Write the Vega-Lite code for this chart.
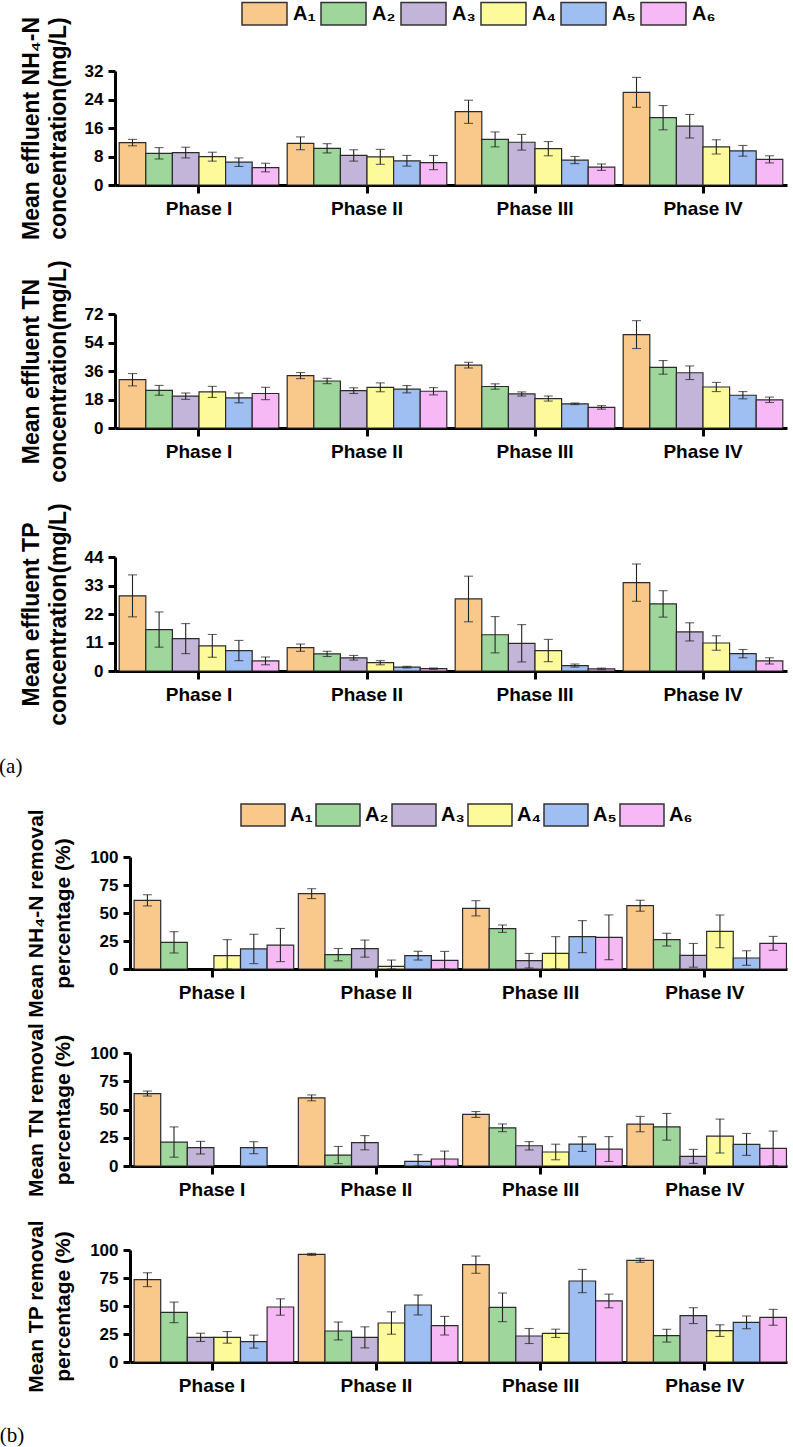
{
  "$schema": "https://vega.github.io/schema/vega-lite/v6.json",
  "padding": {"left": -1, "top": -10, "right": 3, "bottom": 0},
  "background": "white",
  "datasets": {
    "d": [
      {"p":"nh4","ph":"Phase I","g":"A₁","v":11.9,"lo":11.0,"hi":12.8},
      {"p":"nh4","ph":"Phase I","g":"A₂","v":8.9,"lo":7.3,"hi":10.5},
      {"p":"nh4","ph":"Phase I","g":"A₃","v":9.1,"lo":7.6,"hi":10.6},
      {"p":"nh4","ph":"Phase I","g":"A₄","v":7.95,"lo":6.7,"hi":9.2},
      {"p":"nh4","ph":"Phase I","g":"A₅","v":6.4,"lo":5.2,"hi":7.6},
      {"p":"nh4","ph":"Phase I","g":"A₆","v":4.9,"lo":3.7,"hi":6.1},
      {"p":"nh4","ph":"Phase II","g":"A₁","v":11.7,"lo":9.9,"hi":13.5},
      {"p":"nh4","ph":"Phase II","g":"A₂","v":10.3,"lo":9.0,"hi":11.6},
      {"p":"nh4","ph":"Phase II","g":"A₃","v":8.3,"lo":6.7,"hi":9.9},
      {"p":"nh4","ph":"Phase II","g":"A₄","v":7.9,"lo":5.8,"hi":10.0},
      {"p":"nh4","ph":"Phase II","g":"A₅","v":6.8,"lo":5.3,"hi":8.3},
      {"p":"nh4","ph":"Phase II","g":"A₆","v":6.3,"lo":4.3,"hi":8.3},
      {"p":"nh4","ph":"Phase III","g":"A₁","v":20.6,"lo":17.3,"hi":23.8},
      {"p":"nh4","ph":"Phase III","g":"A₂","v":12.8,"lo":10.7,"hi":14.9},
      {"p":"nh4","ph":"Phase III","g":"A₃","v":12.0,"lo":9.8,"hi":14.2},
      {"p":"nh4","ph":"Phase III","g":"A₄","v":10.2,"lo":8.2,"hi":12.2},
      {"p":"nh4","ph":"Phase III","g":"A₅","v":7.0,"lo":6.0,"hi":8.0},
      {"p":"nh4","ph":"Phase III","g":"A₆","v":5.0,"lo":4.1,"hi":5.9},
      {"p":"nh4","ph":"Phase IV","g":"A₁","v":26.0,"lo":21.8,"hi":30.2},
      {"p":"nh4","ph":"Phase IV","g":"A₂","v":18.9,"lo":15.5,"hi":22.3},
      {"p":"nh4","ph":"Phase IV","g":"A₃","v":16.5,"lo":13.2,"hi":19.8},
      {"p":"nh4","ph":"Phase IV","g":"A₄","v":10.7,"lo":8.7,"hi":12.7},
      {"p":"nh4","ph":"Phase IV","g":"A₅","v":9.6,"lo":8.1,"hi":11.1},
      {"p":"nh4","ph":"Phase IV","g":"A₆","v":7.2,"lo":6.2,"hi":8.2},

      {"p":"tn","ph":"Phase I","g":"A₁","v":30.5,"lo":26.6,"hi":34.4},
      {"p":"tn","ph":"Phase I","g":"A₂","v":23.8,"lo":20.7,"hi":26.9},
      {"p":"tn","ph":"Phase I","g":"A₃","v":20.1,"lo":18.1,"hi":22.1},
      {"p":"tn","ph":"Phase I","g":"A₄","v":22.8,"lo":19.3,"hi":26.3},
      {"p":"tn","ph":"Phase I","g":"A₅","v":19.0,"lo":15.9,"hi":22.1},
      {"p":"tn","ph":"Phase I","g":"A₆","v":21.8,"lo":17.9,"hi":25.7},
      {"p":"tn","ph":"Phase II","g":"A₁","v":33.1,"lo":31.2,"hi":35.0},
      {"p":"tn","ph":"Phase II","g":"A₂","v":29.7,"lo":28.0,"hi":31.4},
      {"p":"tn","ph":"Phase II","g":"A₃","v":23.6,"lo":21.8,"hi":25.4},
      {"p":"tn","ph":"Phase II","g":"A₄","v":25.7,"lo":22.9,"hi":28.5},
      {"p":"tn","ph":"Phase II","g":"A₅","v":24.5,"lo":22.2,"hi":26.8},
      {"p":"tn","ph":"Phase II","g":"A₆","v":23.2,"lo":20.9,"hi":25.5},
      {"p":"tn","ph":"Phase III","g":"A₁","v":39.7,"lo":37.9,"hi":41.5},
      {"p":"tn","ph":"Phase III","g":"A₂","v":26.2,"lo":24.5,"hi":27.9},
      {"p":"tn","ph":"Phase III","g":"A₃","v":21.5,"lo":20.2,"hi":22.8},
      {"p":"tn","ph":"Phase III","g":"A₄","v":18.6,"lo":17.0,"hi":20.2},
      {"p":"tn","ph":"Phase III","g":"A₅","v":15.3,"lo":14.8,"hi":15.8},
      {"p":"tn","ph":"Phase III","g":"A₆","v":13.0,"lo":11.9,"hi":14.1},
      {"p":"tn","ph":"Phase IV","g":"A₁","v":59.0,"lo":50.2,"hi":67.8},
      {"p":"tn","ph":"Phase IV","g":"A₂","v":38.3,"lo":34.0,"hi":42.6},
      {"p":"tn","ph":"Phase IV","g":"A₃","v":34.9,"lo":30.6,"hi":39.2},
      {"p":"tn","ph":"Phase IV","g":"A₄","v":25.9,"lo":23.0,"hi":28.8},
      {"p":"tn","ph":"Phase IV","g":"A₅","v":20.7,"lo":18.4,"hi":23.0},
      {"p":"tn","ph":"Phase IV","g":"A₆","v":17.8,"lo":16.1,"hi":19.5},

      {"p":"tp","ph":"Phase I","g":"A₁","v":29.0,"lo":20.9,"hi":37.1},
      {"p":"tp","ph":"Phase I","g":"A₂","v":16.0,"lo":9.2,"hi":22.8},
      {"p":"tp","ph":"Phase I","g":"A₃","v":12.5,"lo":6.7,"hi":18.3},
      {"p":"tp","ph":"Phase I","g":"A₄","v":9.7,"lo":5.3,"hi":14.1},
      {"p":"tp","ph":"Phase I","g":"A₅","v":7.9,"lo":4.0,"hi":11.8},
      {"p":"tp","ph":"Phase I","g":"A₆","v":3.9,"lo":2.4,"hi":5.4},
      {"p":"tp","ph":"Phase II","g":"A₁","v":9.0,"lo":7.6,"hi":10.4},
      {"p":"tp","ph":"Phase II","g":"A₂","v":6.6,"lo":5.6,"hi":7.6},
      {"p":"tp","ph":"Phase II","g":"A₃","v":5.1,"lo":4.2,"hi":6.0},
      {"p":"tp","ph":"Phase II","g":"A₄","v":3.2,"lo":2.4,"hi":4.0},
      {"p":"tp","ph":"Phase II","g":"A₅","v":1.5,"lo":1.2,"hi":1.8},
      {"p":"tp","ph":"Phase II","g":"A₆","v":0.9,"lo":0.65,"hi":1.15},
      {"p":"tp","ph":"Phase III","g":"A₁","v":27.8,"lo":19.0,"hi":36.6},
      {"p":"tp","ph":"Phase III","g":"A₂","v":14.0,"lo":7.0,"hi":21.0},
      {"p":"tp","ph":"Phase III","g":"A₃","v":10.7,"lo":3.5,"hi":17.9},
      {"p":"tp","ph":"Phase III","g":"A₄","v":7.9,"lo":3.6,"hi":12.2},
      {"p":"tp","ph":"Phase III","g":"A₅","v":2.1,"lo":1.5,"hi":2.7},
      {"p":"tp","ph":"Phase III","g":"A₆","v":0.8,"lo":0.5,"hi":1.1},
      {"p":"tp","ph":"Phase IV","g":"A₁","v":34.1,"lo":26.9,"hi":41.3},
      {"p":"tp","ph":"Phase IV","g":"A₂","v":25.9,"lo":20.8,"hi":31.0},
      {"p":"tp","ph":"Phase IV","g":"A₃","v":15.1,"lo":11.6,"hi":18.6},
      {"p":"tp","ph":"Phase IV","g":"A₄","v":10.8,"lo":8.0,"hi":13.6},
      {"p":"tp","ph":"Phase IV","g":"A₅","v":6.7,"lo":5.1,"hi":8.3},
      {"p":"tp","ph":"Phase IV","g":"A₆","v":3.9,"lo":2.7,"hi":5.1},

      {"p":"rnh4","ph":"Phase I","g":"A₁","v":61.3,"lo":56.3,"hi":66.3},
      {"p":"rnh4","ph":"Phase I","g":"A₂","v":23.8,"lo":14.3,"hi":33.3},
      {"p":"rnh4","ph":"Phase I","g":"A₄","v":11.9,"lo":0,"hi":26.2},
      {"p":"rnh4","ph":"Phase I","g":"A₅","v":17.9,"lo":4.8,"hi":31.0},
      {"p":"rnh4","ph":"Phase I","g":"A₆","v":21.4,"lo":6.6,"hi":36.2},
      {"p":"rnh4","ph":"Phase II","g":"A₁","v":67.3,"lo":62.9,"hi":71.7},
      {"p":"rnh4","ph":"Phase II","g":"A₂","v":12.8,"lo":7.3,"hi":18.3},
      {"p":"rnh4","ph":"Phase II","g":"A₃","v":18.2,"lo":10.6,"hi":25.8},
      {"p":"rnh4","ph":"Phase II","g":"A₄","v":2.4,"lo":0,"hi":8.0},
      {"p":"rnh4","ph":"Phase II","g":"A₅","v":11.9,"lo":8.0,"hi":15.8},
      {"p":"rnh4","ph":"Phase II","g":"A₆","v":7.7,"lo":0,"hi":15.7},
      {"p":"rnh4","ph":"Phase III","g":"A₁","v":54.2,"lo":47.4,"hi":61.0},
      {"p":"rnh4","ph":"Phase III","g":"A₂","v":36.0,"lo":32.7,"hi":39.3},
      {"p":"rnh4","ph":"Phase III","g":"A₃","v":7.4,"lo":0.9,"hi":13.9},
      {"p":"rnh4","ph":"Phase III","g":"A₄","v":14.0,"lo":0,"hi":28.9},
      {"p":"rnh4","ph":"Phase III","g":"A₅","v":28.9,"lo":14.6,"hi":43.2},
      {"p":"rnh4","ph":"Phase III","g":"A₆","v":28.3,"lo":8.3,"hi":48.3},
      {"p":"rnh4","ph":"Phase IV","g":"A₁","v":56.5,"lo":51.6,"hi":61.4},
      {"p":"rnh4","ph":"Phase IV","g":"A₂","v":26.2,"lo":20.5,"hi":31.9},
      {"p":"rnh4","ph":"Phase IV","g":"A₃","v":12.2,"lo":1.6,"hi":22.8},
      {"p":"rnh4","ph":"Phase IV","g":"A₄","v":33.6,"lo":19.0,"hi":48.2},
      {"p":"rnh4","ph":"Phase IV","g":"A₅","v":9.8,"lo":3.3,"hi":16.3},
      {"p":"rnh4","ph":"Phase IV","g":"A₆","v":22.9,"lo":16.7,"hi":29.1},

      {"p":"rtn","ph":"Phase I","g":"A₁","v":64.1,"lo":61.9,"hi":66.3},
      {"p":"rtn","ph":"Phase I","g":"A₂","v":21.2,"lo":7.8,"hi":34.6},
      {"p":"rtn","ph":"Phase I","g":"A₃","v":16.2,"lo":10.6,"hi":21.8},
      {"p":"rtn","ph":"Phase I","g":"A₅","v":16.2,"lo":10.9,"hi":21.5},
      {"p":"rtn","ph":"Phase II","g":"A₁","v":60.3,"lo":57.7,"hi":62.9},
      {"p":"rtn","ph":"Phase II","g":"A₂","v":9.7,"lo":2.1,"hi":17.3},
      {"p":"rtn","ph":"Phase II","g":"A₃","v":20.6,"lo":14.3,"hi":26.9},
      {"p":"rtn","ph":"Phase II","g":"A₅","v":4.1,"lo":0,"hi":10.0},
      {"p":"rtn","ph":"Phase II","g":"A₆","v":6.2,"lo":0,"hi":13.2},
      {"p":"rtn","ph":"Phase III","g":"A₁","v":45.6,"lo":43.0,"hi":48.2},
      {"p":"rtn","ph":"Phase III","g":"A₂","v":33.8,"lo":30.4,"hi":37.2},
      {"p":"rtn","ph":"Phase III","g":"A₃","v":17.9,"lo":14.2,"hi":21.6},
      {"p":"rtn","ph":"Phase III","g":"A₄","v":12.4,"lo":5.5,"hi":19.3},
      {"p":"rtn","ph":"Phase III","g":"A₅","v":19.4,"lo":12.9,"hi":25.9},
      {"p":"rtn","ph":"Phase III","g":"A₆","v":15.0,"lo":4.0,"hi":26.0},
      {"p":"rtn","ph":"Phase IV","g":"A₁","v":37.1,"lo":30.3,"hi":43.9},
      {"p":"rtn","ph":"Phase IV","g":"A₂","v":34.7,"lo":22.9,"hi":46.5},
      {"p":"rtn","ph":"Phase IV","g":"A₃","v":8.5,"lo":2.3,"hi":14.7},
      {"p":"rtn","ph":"Phase IV","g":"A₄","v":26.5,"lo":11.5,"hi":41.5},
      {"p":"rtn","ph":"Phase IV","g":"A₅","v":19.1,"lo":9.4,"hi":28.8},
      {"p":"rtn","ph":"Phase IV","g":"A₆","v":15.6,"lo":0.3,"hi":30.9},

      {"p":"rtp","ph":"Phase I","g":"A₁","v":73.5,"lo":67.3,"hi":79.7},
      {"p":"rtp","ph":"Phase I","g":"A₂","v":44.3,"lo":35.1,"hi":53.5},
      {"p":"rtp","ph":"Phase I","g":"A₃","v":22.0,"lo":18.3,"hi":25.7},
      {"p":"rtp","ph":"Phase I","g":"A₄","v":22.0,"lo":16.8,"hi":27.2},
      {"p":"rtp","ph":"Phase I","g":"A₅","v":18.2,"lo":12.4,"hi":24.0},
      {"p":"rtp","ph":"Phase I","g":"A₆","v":49.1,"lo":41.8,"hi":56.4},
      {"p":"rtp","ph":"Phase II","g":"A₁","v":96.1,"lo":95.2,"hi":97.0},
      {"p":"rtp","ph":"Phase II","g":"A₂","v":27.7,"lo":19.7,"hi":35.7},
      {"p":"rtp","ph":"Phase II","g":"A₃","v":22.0,"lo":12.6,"hi":31.4},
      {"p":"rtp","ph":"Phase II","g":"A₄","v":34.8,"lo":24.8,"hi":44.8},
      {"p":"rtp","ph":"Phase II","g":"A₅","v":50.9,"lo":42.0,"hi":59.8},
      {"p":"rtp","ph":"Phase II","g":"A₆","v":32.4,"lo":24.1,"hi":40.7},
      {"p":"rtp","ph":"Phase III","g":"A₁","v":86.9,"lo":79.2,"hi":94.6},
      {"p":"rtp","ph":"Phase III","g":"A₂","v":48.8,"lo":36.0,"hi":61.6},
      {"p":"rtp","ph":"Phase III","g":"A₃","v":23.2,"lo":16.5,"hi":29.9},
      {"p":"rtp","ph":"Phase III","g":"A₄","v":25.6,"lo":21.9,"hi":29.3},
      {"p":"rtp","ph":"Phase III","g":"A₅","v":72.3,"lo":61.9,"hi":82.7},
      {"p":"rtp","ph":"Phase III","g":"A₆","v":54.5,"lo":48.4,"hi":60.6},
      {"p":"rtp","ph":"Phase IV","g":"A₁","v":90.8,"lo":89.0,"hi":92.6},
      {"p":"rtp","ph":"Phase IV","g":"A₂","v":23.5,"lo":17.8,"hi":29.2},
      {"p":"rtp","ph":"Phase IV","g":"A₃","v":41.4,"lo":34.3,"hi":48.5},
      {"p":"rtp","ph":"Phase IV","g":"A₄","v":28.0,"lo":22.8,"hi":33.2},
      {"p":"rtp","ph":"Phase IV","g":"A₅","v":35.4,"lo":29.7,"hi":41.1},
      {"p":"rtp","ph":"Phase IV","g":"A₆","v":39.9,"lo":32.8,"hi":47.0}
    ]
  },
  "data": {"name": "d"},
  "resolve": {"scale": {"color": "independent"}, "legend": {"color": "independent"}},
  "spacing": 14,
  "vconcat": [
    {
      "bounds": "flush",
      "spacing": 129,
      "resolve": {"scale": {"color": "independent"}, "legend": {"color": "independent"}},
      "vconcat": [
        {
          "width": 672, "height": 114,
          "transform": [{"filter": "datum.p === 'nh4'"}],
          "encoding": {
            "x": {"field": "ph", "type": "nominal", "sort": ["Phase I","Phase II","Phase III","Phase IV"], "scale": {"paddingInner": 0.05, "paddingOuter": 0.025}, "title": null},
            "xOffset": {"field": "g", "type": "nominal", "scale": {"domain": ["A₁","A₂","A₃","A₄","A₅","A₆"], "paddingInner": 0, "paddingOuter": 0}}
          },
          "layer": [
            {"mark": {"type": "bar", "stroke": "#2b2b2b", "strokeWidth": 1.2},
             "encoding": {
               "y": {"field": "v", "type": "quantitative", "scale": {"domain": [0, 32], "nice": false}, "axis": {"values": [0, 8, 16, 24, 32], "titleFontSize": 23, "titlePadding": 14, "title": ["Mean effluent NH₄-N", "concentration(mg/L)"]}},
               "color": {"field": "g", "type": "nominal", "scale": {"domain": ["A₁","A₂","A₃","A₄","A₅","A₆"], "range": ["#F9C98C","#9ED69C","#C3B5D9","#FCFA9B","#9FBEF1","#F7B8F6"]},
                 "legend": {"orient": "none", "legendX": 126, "legendY": -81, "direction": "horizontal", "title": null, "symbolType": "M-1,-0.5H1V0.5H-1Z", "symbolSize": 2025, "symbolStrokeColor": "#333333", "symbolStrokeWidth": 1.5, "symbolOpacity": 1, "labelFont": "Liberation Sans", "labelFontSize": 20, "labelFontWeight": "bold", "labelColor": "black", "labelOffset": 5, "columnPadding": 2}}
             }},
            {"mark": {"type": "rule", "color": "#222222", "strokeWidth": 1.1},
             "encoding": {"y": {"field": "lo", "type": "quantitative", "scale": {"domain": [0, 32], "nice": false}, "axis": {"values": [0, 8, 16, 24, 32], "titleFontSize": 23, "titlePadding": 14, "title": ["Mean effluent NH₄-N", "concentration(mg/L)"]}}, "y2": {"field": "hi"}}},
            {"mark": {"type": "tick", "color": "#222222", "thickness": 1.1, "size": 9},
             "encoding": {"y": {"field": "lo", "type": "quantitative", "scale": {"domain": [0, 32], "nice": false}, "axis": {"values": [0, 8, 16, 24, 32], "titleFontSize": 23, "titlePadding": 14, "title": ["Mean effluent NH₄-N", "concentration(mg/L)"]}}}},
            {"mark": {"type": "tick", "color": "#222222", "thickness": 1.1, "size": 9},
             "encoding": {"y": {"field": "hi", "type": "quantitative", "scale": {"domain": [0, 32], "nice": false}, "axis": {"values": [0, 8, 16, 24, 32], "titleFontSize": 23, "titlePadding": 14, "title": ["Mean effluent NH₄-N", "concentration(mg/L)"]}}}}
          ]
        },
        {
          "width": 672, "height": 114,
          "transform": [{"filter": "datum.p === 'tn'"}],
          "encoding": {
            "x": {"field": "ph", "type": "nominal", "sort": ["Phase I","Phase II","Phase III","Phase IV"], "scale": {"paddingInner": 0.05, "paddingOuter": 0.025}, "title": null},
            "xOffset": {"field": "g", "type": "nominal", "scale": {"domain": ["A₁","A₂","A₃","A₄","A₅","A₆"], "paddingInner": 0, "paddingOuter": 0}}
          },
          "layer": [
            {"mark": {"type": "bar", "stroke": "#2b2b2b", "strokeWidth": 1.2},
             "encoding": {
               "y": {"field": "v", "type": "quantitative", "scale": {"domain": [0, 72], "nice": false}, "axis": {"values": [0, 18, 36, 54, 72], "titleFontSize": 23, "titlePadding": 14, "title": ["Mean effluent TN", "concentration(mg/L)"]}},
               "color": {"field": "g", "type": "nominal", "scale": {"domain": ["A₁","A₂","A₃","A₄","A₅","A₆"], "range": ["#F9C98C","#9ED69C","#C3B5D9","#FCFA9B","#9FBEF1","#F7B8F6"]}, "legend": null}
             }},
            {"mark": {"type": "rule", "color": "#222222", "strokeWidth": 1.1},
             "encoding": {"y": {"field": "lo", "type": "quantitative", "scale": {"domain": [0, 72], "nice": false}, "axis": {"values": [0, 18, 36, 54, 72], "titleFontSize": 23, "titlePadding": 14, "title": ["Mean effluent TN", "concentration(mg/L)"]}}, "y2": {"field": "hi"}}},
            {"mark": {"type": "tick", "color": "#222222", "thickness": 1.1, "size": 9},
             "encoding": {"y": {"field": "lo", "type": "quantitative", "scale": {"domain": [0, 72], "nice": false}, "axis": {"values": [0, 18, 36, 54, 72], "titleFontSize": 23, "titlePadding": 14, "title": ["Mean effluent TN", "concentration(mg/L)"]}}}},
            {"mark": {"type": "tick", "color": "#222222", "thickness": 1.1, "size": 9},
             "encoding": {"y": {"field": "hi", "type": "quantitative", "scale": {"domain": [0, 72], "nice": false}, "axis": {"values": [0, 18, 36, 54, 72], "titleFontSize": 23, "titlePadding": 14, "title": ["Mean effluent TN", "concentration(mg/L)"]}}}}
          ]
        },
        {
          "width": 672, "height": 114,
          "title": {"text": "(a)", "orient": "bottom", "anchor": "start", "frame": "bounds", "font": "Liberation Serif", "fontSize": 21, "fontWeight": "normal", "color": "black", "offset": 31, "dx": -21},
          "transform": [{"filter": "datum.p === 'tp'"}],
          "encoding": {
            "x": {"field": "ph", "type": "nominal", "sort": ["Phase I","Phase II","Phase III","Phase IV"], "scale": {"paddingInner": 0.05, "paddingOuter": 0.025}, "title": null},
            "xOffset": {"field": "g", "type": "nominal", "scale": {"domain": ["A₁","A₂","A₃","A₄","A₅","A₆"], "paddingInner": 0, "paddingOuter": 0}}
          },
          "layer": [
            {"mark": {"type": "bar", "stroke": "#2b2b2b", "strokeWidth": 1.2},
             "encoding": {
               "y": {"field": "v", "type": "quantitative", "scale": {"domain": [0, 44], "nice": false}, "axis": {"values": [0, 11, 22, 33, 44], "titleFontSize": 23, "titlePadding": 14, "title": ["Mean effluent TP", "concentration(mg/L)"]}},
               "color": {"field": "g", "type": "nominal", "scale": {"domain": ["A₁","A₂","A₃","A₄","A₅","A₆"], "range": ["#F9C98C","#9ED69C","#C3B5D9","#FCFA9B","#9FBEF1","#F7B8F6"]}, "legend": null}
             }},
            {"mark": {"type": "rule", "color": "#222222", "strokeWidth": 1.1},
             "encoding": {"y": {"field": "lo", "type": "quantitative", "scale": {"domain": [0, 44], "nice": false}, "axis": {"values": [0, 11, 22, 33, 44], "titleFontSize": 23, "titlePadding": 14, "title": ["Mean effluent TP", "concentration(mg/L)"]}}, "y2": {"field": "hi"}}},
            {"mark": {"type": "tick", "color": "#222222", "thickness": 1.1, "size": 9},
             "encoding": {"y": {"field": "lo", "type": "quantitative", "scale": {"domain": [0, 44], "nice": false}, "axis": {"values": [0, 11, 22, 33, 44], "titleFontSize": 23, "titlePadding": 14, "title": ["Mean effluent TP", "concentration(mg/L)"]}}}},
            {"mark": {"type": "tick", "color": "#222222", "thickness": 1.1, "size": 9},
             "encoding": {"y": {"field": "hi", "type": "quantitative", "scale": {"domain": [0, 44], "nice": false}, "axis": {"values": [0, 11, 22, 33, 44], "titleFontSize": 23, "titlePadding": 14, "title": ["Mean effluent TP", "concentration(mg/L)"]}}}}
          ]
        }
      ]
    },
    {
      "bounds": "flush",
      "spacing": 84,
      "resolve": {"scale": {"color": "independent"}, "legend": {"color": "independent"}},
      "vconcat": [
        {
          "width": 672, "height": 112,
          "transform": [{"filter": "datum.p === 'rnh4'"}],
          "encoding": {
            "x": {"field": "ph", "type": "nominal", "sort": ["Phase I","Phase II","Phase III","Phase IV"], "scale": {"range": [15, 672], "paddingInner": 0.05, "paddingOuter": 0.025}, "title": null},
            "xOffset": {"field": "g", "type": "nominal", "scale": {"domain": ["A₁","A₂","A₃","A₄","A₅","A₆"], "paddingInner": 0, "paddingOuter": 0}}
          },
          "layer": [
            {"mark": {"type": "bar", "stroke": "#2b2b2b", "strokeWidth": 1.2},
             "encoding": {
               "y": {"field": "v", "type": "quantitative", "scale": {"domain": [0, 100], "nice": false}, "axis": {"values": [0, 25, 50, 75, 100], "offset": -15, "titleFontSize": 21, "titlePadding": 16, "title": ["Mean NH₄-N removal", "percentage (%)"]}},
               "color": {"field": "g", "type": "nominal", "scale": {"domain": ["A₁","A₂","A₃","A₄","A₅","A₆"], "range": ["#F9C98C","#9ED69C","#C3B5D9","#FCFA9B","#9FBEF1","#F7B8F6"]},
                 "legend": {"orient": "none", "legendX": 125, "legendY": -65, "direction": "horizontal", "title": null, "symbolType": "M-1,-0.5H1V0.5H-1Z", "symbolSize": 1936, "symbolStrokeColor": "#333333", "symbolStrokeWidth": 1.5, "symbolOpacity": 1, "labelFont": "Liberation Sans", "labelFontSize": 20, "labelFontWeight": "bold", "labelColor": "black", "labelOffset": 4, "columnPadding": 0}}
             }},
            {"mark": {"type": "rule", "color": "#222222", "strokeWidth": 1.1},
             "encoding": {"y": {"field": "lo", "type": "quantitative", "scale": {"domain": [0, 100], "nice": false}, "axis": {"values": [0, 25, 50, 75, 100], "offset": -15, "titleFontSize": 21, "titlePadding": 16, "title": ["Mean NH₄-N removal", "percentage (%)"]}}, "y2": {"field": "hi"}}},
            {"mark": {"type": "tick", "color": "#222222", "thickness": 1.1, "size": 9},
             "encoding": {"y": {"field": "lo", "type": "quantitative", "scale": {"domain": [0, 100], "nice": false}, "axis": {"values": [0, 25, 50, 75, 100], "offset": -15, "titleFontSize": 21, "titlePadding": 16, "title": ["Mean NH₄-N removal", "percentage (%)"]}}}},
            {"mark": {"type": "tick", "color": "#222222", "thickness": 1.1, "size": 9},
             "encoding": {"y": {"field": "hi", "type": "quantitative", "scale": {"domain": [0, 100], "nice": false}, "axis": {"values": [0, 25, 50, 75, 100], "offset": -15, "titleFontSize": 21, "titlePadding": 16, "title": ["Mean NH₄-N removal", "percentage (%)"]}}}}
          ]
        },
        {
          "width": 672, "height": 113,
          "transform": [{"filter": "datum.p === 'rtn'"}],
          "encoding": {
            "x": {"field": "ph", "type": "nominal", "sort": ["Phase I","Phase II","Phase III","Phase IV"], "scale": {"range": [15, 672], "paddingInner": 0.05, "paddingOuter": 0.025}, "title": null},
            "xOffset": {"field": "g", "type": "nominal", "scale": {"domain": ["A₁","A₂","A₃","A₄","A₅","A₆"], "paddingInner": 0, "paddingOuter": 0}}
          },
          "layer": [
            {"mark": {"type": "bar", "stroke": "#2b2b2b", "strokeWidth": 1.2},
             "encoding": {
               "y": {"field": "v", "type": "quantitative", "scale": {"domain": [0, 100], "nice": false}, "axis": {"values": [0, 25, 50, 75, 100], "offset": -15, "titleFontSize": 21, "titlePadding": 16, "title": ["Mean TN removal", "percentage (%)"]}},
               "color": {"field": "g", "type": "nominal", "scale": {"domain": ["A₁","A₂","A₃","A₄","A₅","A₆"], "range": ["#F9C98C","#9ED69C","#C3B5D9","#FCFA9B","#9FBEF1","#F7B8F6"]}, "legend": null}
             }},
            {"mark": {"type": "rule", "color": "#222222", "strokeWidth": 1.1},
             "encoding": {"y": {"field": "lo", "type": "quantitative", "scale": {"domain": [0, 100], "nice": false}, "axis": {"values": [0, 25, 50, 75, 100], "offset": -15, "titleFontSize": 21, "titlePadding": 16, "title": ["Mean TN removal", "percentage (%)"]}}, "y2": {"field": "hi"}}},
            {"mark": {"type": "tick", "color": "#222222", "thickness": 1.1, "size": 9},
             "encoding": {"y": {"field": "lo", "type": "quantitative", "scale": {"domain": [0, 100], "nice": false}, "axis": {"values": [0, 25, 50, 75, 100], "offset": -15, "titleFontSize": 21, "titlePadding": 16, "title": ["Mean TN removal", "percentage (%)"]}}}},
            {"mark": {"type": "tick", "color": "#222222", "thickness": 1.1, "size": 9},
             "encoding": {"y": {"field": "hi", "type": "quantitative", "scale": {"domain": [0, 100], "nice": false}, "axis": {"values": [0, 25, 50, 75, 100], "offset": -15, "titleFontSize": 21, "titlePadding": 16, "title": ["Mean TN removal", "percentage (%)"]}}}}
          ]
        },
        {
          "width": 672, "height": 112,
          "title": {"text": "(b)", "orient": "bottom", "anchor": "start", "frame": "bounds", "font": "Liberation Serif", "fontSize": 21, "fontWeight": "normal", "color": "black", "offset": 30, "dx": -26},
          "transform": [{"filter": "datum.p === 'rtp'"}],
          "encoding": {
            "x": {"field": "ph", "type": "nominal", "sort": ["Phase I","Phase II","Phase III","Phase IV"], "scale": {"range": [15, 672], "paddingInner": 0.05, "paddingOuter": 0.025}, "title": null},
            "xOffset": {"field": "g", "type": "nominal", "scale": {"domain": ["A₁","A₂","A₃","A₄","A₅","A₆"], "paddingInner": 0, "paddingOuter": 0}}
          },
          "layer": [
            {"mark": {"type": "bar", "stroke": "#2b2b2b", "strokeWidth": 1.2},
             "encoding": {
               "y": {"field": "v", "type": "quantitative", "scale": {"domain": [0, 100], "nice": false}, "axis": {"values": [0, 25, 50, 75, 100], "offset": -15, "titleFontSize": 21, "titlePadding": 16, "title": ["Mean TP removal", "percentage (%)"]}},
               "color": {"field": "g", "type": "nominal", "scale": {"domain": ["A₁","A₂","A₃","A₄","A₅","A₆"], "range": ["#F9C98C","#9ED69C","#C3B5D9","#FCFA9B","#9FBEF1","#F7B8F6"]}, "legend": null}
             }},
            {"mark": {"type": "rule", "color": "#222222", "strokeWidth": 1.1},
             "encoding": {"y": {"field": "lo", "type": "quantitative", "scale": {"domain": [0, 100], "nice": false}, "axis": {"values": [0, 25, 50, 75, 100], "offset": -15, "titleFontSize": 21, "titlePadding": 16, "title": ["Mean TP removal", "percentage (%)"]}}, "y2": {"field": "hi"}}},
            {"mark": {"type": "tick", "color": "#222222", "thickness": 1.1, "size": 9},
             "encoding": {"y": {"field": "lo", "type": "quantitative", "scale": {"domain": [0, 100], "nice": false}, "axis": {"values": [0, 25, 50, 75, 100], "offset": -15, "titleFontSize": 21, "titlePadding": 16, "title": ["Mean TP removal", "percentage (%)"]}}}},
            {"mark": {"type": "tick", "color": "#222222", "thickness": 1.1, "size": 9},
             "encoding": {"y": {"field": "hi", "type": "quantitative", "scale": {"domain": [0, 100], "nice": false}, "axis": {"values": [0, 25, 50, 75, 100], "offset": -15, "titleFontSize": 21, "titlePadding": 16, "title": ["Mean TP removal", "percentage (%)"]}}}}
          ]
        }
      ]
    }
  ],
  "config": {
    "view": {"stroke": null},
    "axis": {"grid": false, "domainColor": "black", "domainWidth": 3, "tickColor": "black", "tickWidth": 3, "labelFont": "Liberation Sans", "labelFontWeight": "bold", "labelColor": "black", "titleFont": "Liberation Sans", "titleFontWeight": "bold", "titleColor": "black"},
    "axisX": {"labelFontSize": 19, "tickSize": 8, "labelPadding": 6, "labelAngle": 0},
    "axisY": {"labelFontSize": 17, "tickSize": 7, "labelPadding": 5, "titleLineHeight": 27, "titlePadding": 11}
  }
}
